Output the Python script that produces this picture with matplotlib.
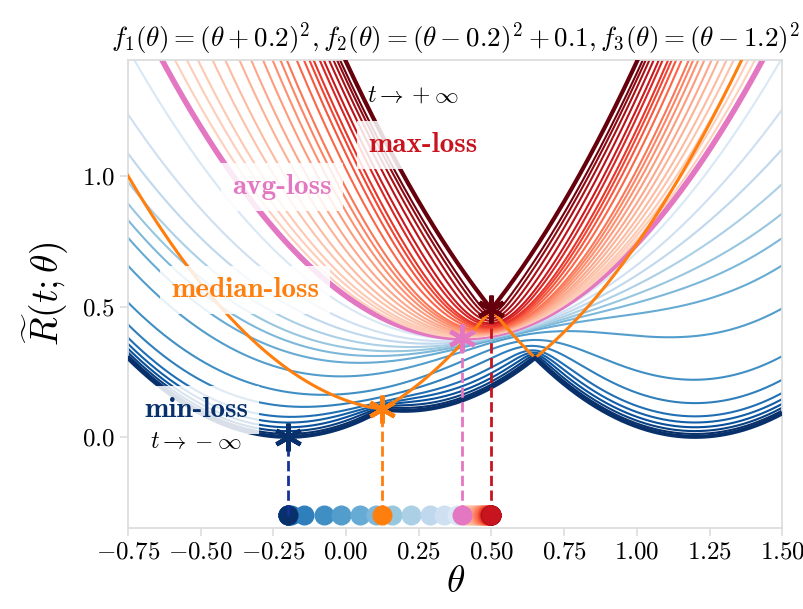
import numpy as np
import matplotlib
matplotlib.use("Agg")
import matplotlib.pyplot as plt

plt.rcParams['mathtext.fontset'] = 'cm'
plt.rcParams['font.family'] = 'serif'
plt.rcParams['font.serif'] = ['cmr10', 'DejaVu Serif']
plt.rcParams['axes.formatter.use_mathtext'] = True

# the three losses from the title: f_i(theta) = (theta - c_i)^2 + b_i
centers = [-0.2, 0.2, 1.2]
offsets = [0.0, 0.1, 0.0]

# tilt values for the thin curves
t_neg = [-100, -50, -30, -20, -14, -8.5, -5, -2.7, -1.85, -1.5, -1.25, -1.0, -0.75, -0.5, -0.2]
t_pos = [0.1, 0.2, 0.3, 0.45, 0.6, 0.8, 1.0, 1.25, 1.5, 1.75, 2, 2.5, 3, 3.5, 4, 5, 6, 8, 11, 16, 25]

xticks = [-0.75, -0.5, -0.25, 0.0, 0.25, 0.5, 0.75, 1.0, 1.25, 1.5]
yticks = [0.0, 0.5, 1.0]

theta = np.linspace(-0.75, 1.5, 2251)
F = np.array([(theta - c) ** 2 + b for c, b in zip(centers, offsets)])


def tilted(t):
    z = t * F
    m = z.max(axis=0)
    return (m + np.log(np.exp(z - m).mean(axis=0))) / t


def first_min(curve):
    return np.flatnonzero(curve <= curve.min() + 1e-9)[0]


C_MIN, C_MIN_D = '#08306b', '#17319a'
C_MAX, C_MAX_D = '#67000d', '#c8141e'
C_AVG = '#e377c2'
C_MED = '#ff7f0e'
DOT_Y = -0.3

fig = plt.figure(figsize=(8.04, 6.09), dpi=100)
ax = fig.add_axes([0.159, 0.133, 0.814, 0.768])

avg = F.mean(axis=0)
med = np.median(F, axis=0)
mx = F.max(axis=0)
mn = F.min(axis=0)

dots = []
blues = plt.cm.Blues(np.linspace(1.0, 0.15, len(t_neg)))
for t, c in zip(t_neg, blues):
    r = tilted(t)
    ax.plot(theta, r, color=c, lw=1.5, zorder=2)
    dots.append((theta[first_min(r)], c))

ax.plot(theta, avg, color=C_AVG, lw=4, zorder=2)

k = np.linspace(0, 1, len(t_pos))
reds = plt.cm.Reds(0.18 + 0.8 * k ** 1.5)
for t, c in zip(t_pos, reds):
    r = tilted(t)
    ax.plot(theta, r, color=c, lw=1.5, zorder=2)
    dots.append((theta[first_min(r)], c))

ax.plot(theta, med, color=C_MED, lw=2.2, zorder=4)
ax.plot(theta, mx, color=C_MAX, lw=3, zorder=4)
ax.plot(theta, mn, color=C_MIN, lw=3, zorder=4)

for x, c in dots:
    ax.scatter([x], [DOT_Y], s=180, color=c, zorder=5, clip_on=False)

specials = [(mn, C_MIN, C_MIN_D, C_MIN), (avg, C_AVG, C_AVG, C_AVG),
            (med, C_MED, C_MED, C_MED), (mx, C_MAX, C_MAX_D, C_MAX_D)]
for curve, cs, cd, cdot in specials:
    i = first_min(curve)
    ax.scatter([theta[i]], [DOT_Y], s=180, color=cdot, zorder=6)
    ax.plot([theta[i], theta[i]], [DOT_Y, curve[i]], ls='--', lw=2, color=cd, zorder=7)
    ax.plot([theta[i]], [curve[i]], marker=(6, 2, 0), ms=20, mew=3.2, color=cs, zorder=8)

box = dict(facecolor='white', alpha=0.85, edgecolor='none', pad=8)
lab = dict(family='cmb10', fontsize=21, ha='center', va='center', bbox=box, zorder=9)
ax.text(0.265, 1.12, 'max-loss', color=C_MAX_D, **lab)
ax.text(-0.22, 0.96, 'avg-loss', color=C_AVG, **lab)
ax.text(-0.347, 0.563, 'median-loss', color=C_MED, **lab)
ax.text(-0.516, 0.103, 'min-loss', color=C_MIN, **lab)
ax.text(0.23, 1.31, r'$t \rightarrow +\infty$', fontsize=17, ha='center', va='center', zorder=9)
ax.text(-0.516, -0.02, r'$t \rightarrow -\infty$', fontsize=17, ha='center', va='center', zorder=9)

ax.set_xlim(-0.75, 1.5)
ax.set_ylim(-0.35, 1.445)
ax.set_xticks(xticks)
ax.set_xticklabels([f'${v:.2f}$' for v in xticks])
ax.set_yticks(yticks)
ax.set_yticklabels([f'${v:.1f}$' for v in yticks])
ax.tick_params(labelsize=18, color='#dddddd', length=6, width=1.2)
for s in ax.spines.values():
    s.set_color('#dddddd')
    s.set_linewidth(1.3)

ax.set_xlabel(r'$\theta$', fontsize=27, labelpad=2)
ax.set_ylabel(r'$\widetilde{R}(t;\theta)$', fontsize=27, labelpad=8)
ax.set_title(r'$f_1(\theta) = (\theta + 0.2)^2, f_2(\theta) = (\theta - 0.2)^2 + 0.1, f_3(\theta) = (\theta - 1.2)^2$',
             fontsize=19.5, pad=10)

fig.savefig('out.png', dpi=100)
